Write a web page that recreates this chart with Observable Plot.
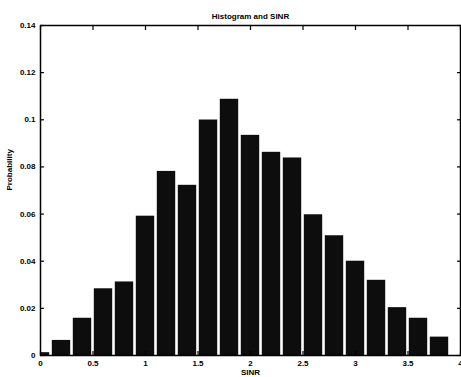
<!DOCTYPE html>
<html>
<head>
<meta charset="utf-8">
<script src="https://cdn.jsdelivr.net/npm/d3@7"></script>
<script src="https://cdn.jsdelivr.net/npm/@observablehq/plot@0.6"></script>
<style>
  html, body { margin: 0; padding: 0; background: #fff; }
  #chart svg { display: block; }
</style>
</head>
<body>
<div id="chart"></div>
<script>
const binCenters = [0, 0.2, 0.4, 0.6, 0.8, 1.0, 1.2, 1.4, 1.6, 1.8, 2.0, 2.2, 2.4, 2.6, 2.8, 3.0, 3.2, 3.4, 3.6, 3.8];
const probabilities = [0.0012, 0.0064, 0.0158, 0.0283, 0.0312, 0.0591, 0.0781, 0.0722, 0.0999, 0.1087, 0.0934, 0.0862, 0.0838, 0.0597, 0.0508, 0.0400, 0.0319, 0.0203, 0.0158, 0.0078];
const binWidth = 0.2;
const xTicks = [0, 0.5, 1, 1.5, 2, 2.5, 3, 3.5, 4];
const xTickLabels = ["0", "0.5", "1", "1.5", "2", "2.5", "3", "3.5", "4"];
const yTicks = [0, 0.02, 0.04, 0.06, 0.08, 0.1, 0.12, 0.14];
const yTickLabels = ["0", "0.02", "0.04", "0.06", "0.08", "0.1", "0.12", "0.14"];
const titleText = "Histogram and SINR";
const xLabel = "SINR";
const yLabel = "Probability";

const bins = binCenters.map((c, i) => ({x1: c - binWidth / 2, x2: c + binWidth / 2, y: probabilities[i]}));

const font = "bold 8px 'Liberation Sans', Arial, sans-serif";

const chart = Plot.plot({
  width: 461,
  height: 377,
  marginLeft: 40,
  marginRight: 1,
  marginTop: 25,
  marginBottom: 22,
  style: {font, background: "#fff", color: "#000"},
  x: {domain: [0, 4], ticks: xTicks},
  y: {domain: [0, 0.14], ticks: yTicks},
  marks: [
    Plot.rectY(bins, {x1: "x1", x2: "x2", y: "y", fill: "#0d0d0d", insetLeft: 1.3, insetRight: 1.3, clip: true}),
    Plot.axisX(xTicks, {anchor: "bottom", tickSize: 0, tickPadding: 5, tickFormat: (d, i) => xTickLabels[i], label: null}),
    Plot.axisY(yTicks, {anchor: "left", tickSize: 0, tickPadding: 5, tickFormat: (d, i) => yTickLabels[i], label: null}),
    Plot.axisX(xTicks, {anchor: "bottom", tickSize: -4, tickFormat: () => "", label: null, strokeWidth: 1.2}),
    Plot.axisX(xTicks, {anchor: "top", tickSize: -4, tickFormat: () => "", label: null, strokeWidth: 1.2}),
    Plot.axisY(yTicks, {anchor: "left", tickSize: -4, tickFormat: () => "", label: null, strokeWidth: 1.2}),
    Plot.axisY(yTicks, {anchor: "right", tickSize: -4, tickFormat: () => "", label: null, strokeWidth: 1.2}),
    Plot.frame({stroke: "#000", strokeWidth: 1.5}),
    Plot.text([titleText], {frameAnchor: "top", dy: -12, text: d => d, fontWeight: "bold", fontSize: 8}),
    Plot.text([xLabel], {frameAnchor: "bottom", dy: 19, text: d => d, fontWeight: "bold", fontSize: 8}),
    Plot.text([yLabel], {frameAnchor: "left", dx: -31, rotate: -90, text: d => d, fontWeight: "bold", fontSize: 8})
  ]
});
document.getElementById("chart").appendChild(chart);
</script>
</body>
</html>
